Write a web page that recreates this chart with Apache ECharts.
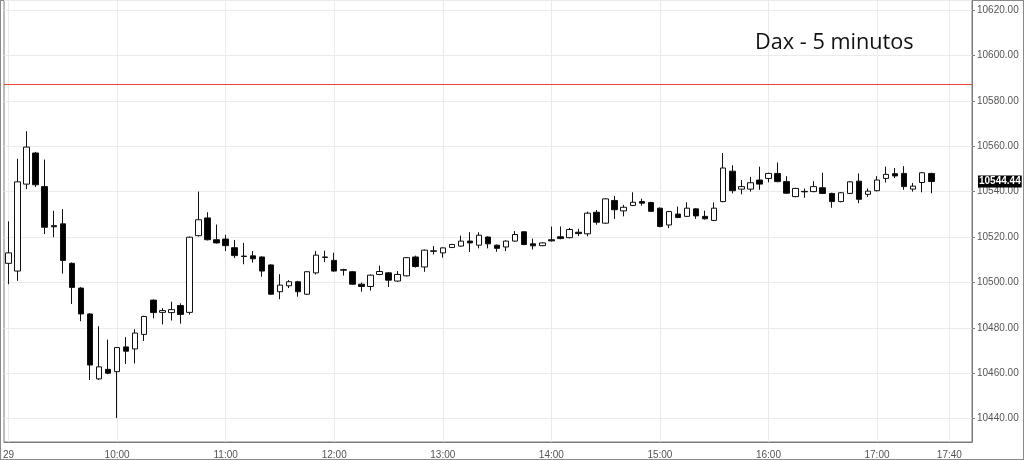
<!DOCTYPE html>
<html>
<head>
<meta charset="utf-8">
<script src="https://cdn.jsdelivr.net/npm/echarts@6/dist/echarts.min.js"></script>
<style>
  html, body { margin: 0; padding: 0; background: #fff; }
  #chart { width: 1024px; height: 460px; background: #fff; box-shadow: inset 0 0 0 1px #8a8a8a; }
</style>
</head>
<body>
<div id="chart"></div>
<script>
// 5 minute bars, 09:00 .. 17:30 (axis runs on to 17:50)
var times = [];
for (var m = 9 * 60; m <= 17 * 60 + 50; m += 5) {
    times.push(('0' + Math.floor(m / 60)).slice(-2) + ':' + ('0' + (m % 60)).slice(-2));
}
var markedTimes = ['09:00', '10:00', '11:00', '12:00', '13:00', '14:00', '15:00', '16:00', '17:00', '17:40'];

var opens = [
    10508.4, 10505.0, 10543.3, 10557.0, 10542.2, 10525.0, 10525.8, 10508.4, 10497.5, 10486.1,
    10457.5, 10461.7, 10460.7, 10471.6, 10470.7, 10477.1, 10492.2, 10486.8, 10486.7, 10489.8,
    10486.8, 10520.6, 10528.4, 10518.8, 10519.1, 10515.3, 10511.6, 10511.7, 10511.2, 10507.7,
    10495.9, 10498.5, 10500.3, 10494.8, 10504.2, 10511.2, 10509.7, 10505.6, 10504.7, 10499.2,
    10498.2, 10503.5, 10504.2, 10500.6, 10502.9, 10511.2, 10506.8, 10513.9, 10513.0, 10515.4,
    10516.0, 10518.2, 10516.4, 10520.0, 10516.4, 10515.6, 10518.2, 10522.3, 10517.0, 10516.2,
    10518.8, 10520.1, 10519.7, 10522.1, 10521.4, 10530.9, 10526.1, 10536.1, 10531.5, 10533.9,
    10535.6, 10535.2, 10532.7, 10525.3, 10530.1, 10529.1, 10532.4, 10529.1, 10527.3, 10535.6,
    10549.0, 10541.1, 10541.1, 10545.1, 10545.8, 10548.0, 10544.4, 10537.8, 10540.1, 10540.0,
    10541.7, 10539.2, 10535.6, 10539.2, 10544.6, 10538.8, 10540.4, 10545.8, 10547.9, 10548.0,
    10541.1, 10544.0, 10548.0
];
var closes = [
    10513.0, 10544.3, 10559.6, 10543.0, 10524.3, 10524.5, 10509.7, 10497.8, 10486.1, 10463.6,
    10462.8, 10460.0, 10471.3, 10469.7, 10477.7, 10485.0, 10486.7, 10487.6, 10488.0, 10485.9,
    10519.9, 10527.6, 10518.8, 10517.4, 10516.2, 10511.8, 10511.4, 10510.4, 10505.0, 10494.8,
    10498.8, 10500.3, 10495.9, 10504.7, 10512.0, 10511.0, 10505.0, 10505.4, 10499.2, 10498.2,
    10503.2, 10504.8, 10501.0, 10503.5, 10510.9, 10507.0, 10514.2, 10513.7, 10515.2, 10516.7,
    10518.2, 10517.4, 10520.8, 10517.0, 10515.0, 10518.2, 10521.1, 10516.7, 10516.1, 10517.4,
    10518.3, 10519.3, 10523.3, 10521.5, 10530.5, 10526.5, 10536.8, 10532.0, 10533.1, 10535.3,
    10534.9, 10531.3, 10524.6, 10531.2, 10528.6, 10532.7, 10529.3, 10528.0, 10532.7, 10550.4,
    10540.4, 10542.2, 10543.9, 10543.3, 10548.0, 10544.4, 10539.3, 10541.4, 10539.9, 10542.2,
    10539.2, 10535.6, 10539.5, 10544.3, 10536.6, 10540.2, 10545.1, 10547.6, 10546.9, 10542.2,
    10542.4, 10548.3, 10544.44
];
var lows = [
    10499.2, 10500.7, 10541.1, 10542.0, 10521.3, 10519.9, 10503.9, 10490.5, 10482.9, 10457.0,
    10457.0, 10459.6, 10440.3, 10464.1, 10464.3, 10474.2, 10484.2, 10481.5, 10483.2, 10481.8,
    10485.8, 10520.2, 10518.5, 10517.1, 10513.8, 10510.7, 10508.0, 10508.7, 10502.5, 10494.5,
    10492.6, 10497.5, 10493.7, 10494.5, 10503.5, 10509.0, 10504.7, 10503.0, 10498.9, 10495.9,
    10496.4, 10503.2, 10498.0, 10500.3, 10502.6, 10506.5, 10504.7, 10512.3, 10510.9, 10515.1,
    10515.7, 10513.4, 10515.0, 10515.0, 10513.5, 10513.8, 10517.9, 10516.4, 10514.5, 10515.9,
    10518.0, 10519.0, 10519.4, 10520.4, 10520.3, 10525.4, 10525.8, 10528.0, 10529.1, 10533.6,
    10533.8, 10531.0, 10524.3, 10523.9, 10528.3, 10528.8, 10528.0, 10527.7, 10527.0, 10535.3,
    10539.2, 10538.8, 10540.0, 10540.8, 10544.1, 10544.1, 10539.0, 10537.5, 10537.3, 10539.7,
    10538.9, 10532.9, 10535.3, 10538.9, 10534.9, 10537.7, 10540.1, 10544.0, 10546.0, 10540.8,
    10540.0, 10539.7, 10539.3
];
var highs = [
    10526.9, 10554.5, 10566.6, 10557.5, 10554.1, 10531.5, 10532.3, 10508.8, 10497.9, 10486.5,
    10480.7, 10474.8, 10471.6, 10475.9, 10479.4, 10485.3, 10492.5, 10488.7, 10491.5, 10490.8,
    10520.2, 10540.0, 10530.9, 10525.5, 10521.0, 10518.7, 10517.4, 10513.8, 10511.5, 10508.0,
    10503.6, 10501.0, 10500.7, 10505.0, 10513.8, 10514.0, 10513.1, 10506.0, 10505.0, 10499.9,
    10503.5, 10507.4, 10504.5, 10505.0, 10511.2, 10511.8, 10514.5, 10516.0, 10515.5, 10517.0,
    10520.6, 10522.1, 10522.1, 10520.3, 10516.7, 10518.5, 10522.6, 10522.6, 10519.3, 10517.7,
    10524.6, 10524.6, 10524.0, 10523.6, 10531.2, 10531.9, 10537.1, 10538.1, 10534.1, 10539.7,
    10536.9, 10535.5, 10533.0, 10531.5, 10533.4, 10535.3, 10532.7, 10531.6, 10535.2, 10557.0,
    10551.6, 10545.1, 10546.5, 10551.0, 10548.3, 10552.8, 10546.8, 10541.7, 10541.4, 10544.6,
    10548.3, 10539.5, 10539.8, 10544.6, 10548.0, 10541.4, 10546.8, 10551.0, 10550.4, 10551.2,
    10543.8, 10548.6, 10548.3
];

var refLevel = 10587.4;
var lastPrice = 10544.44;

var candles = [];
for (var i = 0; i < opens.length; i++) {
    candles.push([opens[i], closes[i], lows[i], highs[i]]);
}

function isMarked(idx, val) {
    return markedTimes.indexOf(val) >= 0;
}

// vertical grid lines through the centre of the labelled bars
var gridLines = markedTimes.map(function (t) {
    return { xAxis: t, lineStyle: { color: '#ebebeb', width: 1, type: 'solid' }, label: { show: false } };
});

var chart = echarts.init(document.getElementById('chart'));
var option = {
    animation: false,
    title: {
        text: 'Dax - 5 minutos',
        left: 755,
        top: 32,
        padding: 0,
        textStyle: {
            fontFamily: 'Open Sans',
            fontSize: 21.7,
            fontWeight: 'normal',
            color: '#111'
        }
    },
    grid: {
        left: 1,
        right: 52,
        top: 0,
        bottom: 14,
        show: true,
        borderColor: '#7a7a7a',
        borderWidth: 1
    },
    xAxis: {
        type: 'category',
        data: times,
        boundaryGap: true,
        axisLine: { lineStyle: { color: '#7a7a7a' } },
        axisTick: {
            alignWithLabel: true,
            interval: isMarked,
            length: 3,
            lineStyle: { color: '#7a7a7a' }
        },
        axisLabel: {
            interval: isMarked,
            margin: 8,
            fontFamily: 'Liberation Sans',
            fontSize: 10,
            color: '#555',
            formatter: function (val, idx) {
                return idx === 0 ? '29' : val;
            }
        },
        splitLine: { show: false }
    },
    yAxis: {
        type: 'value',
        position: 'right',
        scale: true,
        min: 10429.7,
        max: 10624.4,
        splitNumber: 10,
        axisLine: { show: true, lineStyle: { color: '#7a7a7a' } },
        axisTick: { show: true, length: 3, lineStyle: { color: '#7a7a7a' } },
        axisLabel: {
            margin: 5,
            fontFamily: 'Liberation Sans',
            fontSize: 10,
            color: '#555',
            showMinLabel: false,
            showMaxLabel: false,
            formatter: function (v) { return v.toFixed(2); }
        },
        splitLine: { lineStyle: { color: '#ebebeb' } }
    },
    series: [{
        type: 'candlestick',
        data: candles,
        barWidth: 6,
        z: 2,
        itemStyle: {
            color: '#fff',
            color0: '#000',
            borderColor: '#111',
            borderColor0: '#111',
            borderWidth: 1
        },
        markLine: {
            silent: true,
            z: 1,
            symbol: ['none', 'none'],
            data: gridLines.concat([
                {
                    yAxis: refLevel,
                    lineStyle: { color: '#e8413c', width: 1, type: 'solid' },
                    label: { show: false }
                },
                {
                    yAxis: lastPrice,
                    lineStyle: { color: 'rgba(0,0,0,0)', width: 1, type: 'solid' },
                    label: {
                        show: true,
                        position: 'end',
                        distance: 6,
                        formatter: lastPrice.toFixed(2),
                        backgroundColor: '#000',
                        color: '#fff',
                        fontFamily: 'Liberation Sans',
                        fontSize: 10,
                        fontWeight: 'bold',
                        padding: [1, 1, 1, 1]
                    }
                }
            ])
        }
    }]
};
chart.setOption(option);
</script>
</body>
</html>
